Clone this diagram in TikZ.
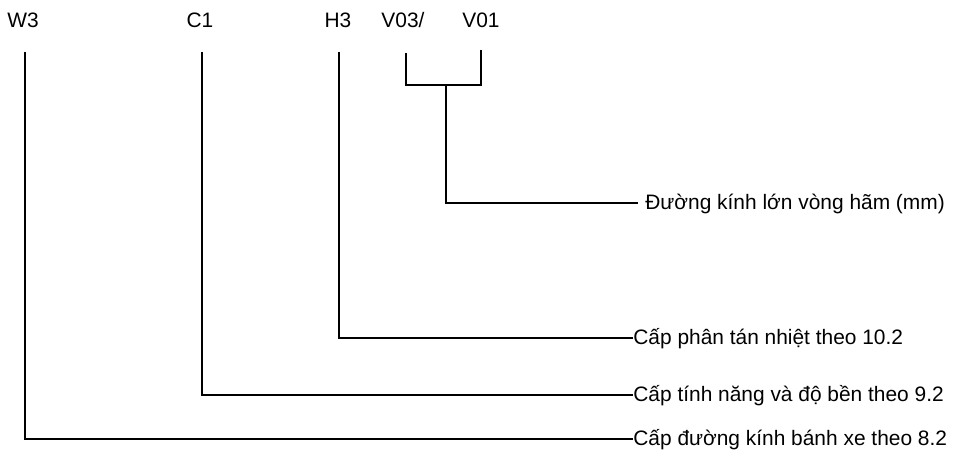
\documentclass[tikz,border=0pt]{standalone}
\usepackage{fontspec}
\setmainfont{Liberation Sans}
\usepackage{tikz}
\usetikzlibrary{positioning, calc}
\tikzset{
	code/.style ={inner sep=0pt, text height=0.72em, text depth=0pt, anchor=south},
	desc/.style ={inner sep=0pt, text height=0.72em, text depth=0pt, anchor=west},
	lead/.style ={line width=0.7pt},
}
\begin{document}
\begin{tikzpicture}[x=0.2mm, y=-0.2mm, font=\fontsize{11.9}{14}\selectfont]
	\useasboundingbox (0,0) rectangle (955,454);
	% designation codes
	\node[code] (w3) at (23,28) {W3};
	\node[code] (c1) at (200,28) {C1};
	\node[code] (h3) at (338,28) {H3};
	\node[code] (v03) at (403,28) {V03/};
	\node[code] (v01) at (481,28) {V01};
	% explanations
	\node[desc] (dv) at (645,203) {Đường kính lớn vòng hãm (mm)};
	\node[desc] (dh) at (633,338) {Cấp phân tán nhiệt theo 10.2};
	\node[desc] (dc) at (633,395) {Cấp tính năng và độ bền theo 9.2};
	\node[desc] (dw) at (633,439) {Cấp đường kính bánh xe theo 8.2};
	\coordinate (vjoin) at (446,85);
	\draw[lead, shorten <=4.8mm] ([xshift=0.4mm]w3.south) |- (dw.west);
	\draw[lead, shorten <=4.8mm] ([xshift=0.4mm]c1.south) |- (dc.west);
	\draw[lead, shorten <=4.8mm] ([xshift=0.2mm]h3.south) |- (dh.west);
	\draw[lead, shorten <=5mm] ([xshift=0.6mm]v03.south) |- (vjoin);
	\draw[lead, shorten <=4.4mm] (v01.south) |- (vjoin);
	\draw[lead, shorten >=1.4mm] (vjoin) |- (dv.west);
\end{tikzpicture}
\end{document}
